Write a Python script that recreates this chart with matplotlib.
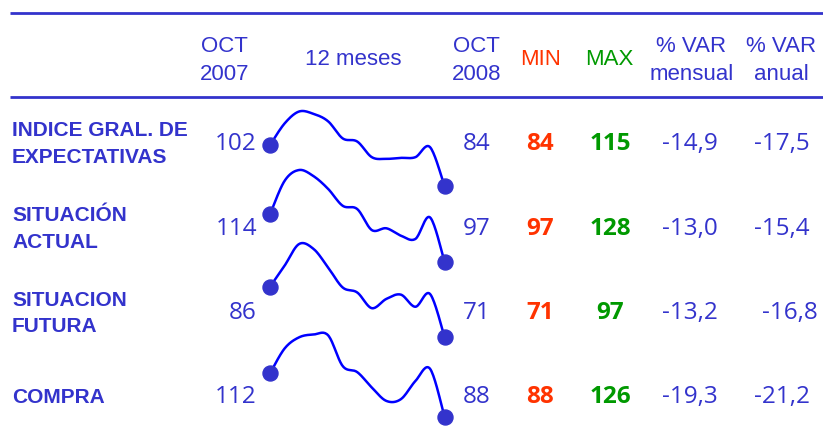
import numpy as np
import matplotlib
matplotlib.use("Agg")
import matplotlib.pyplot as plt

# table values
labels = [["INDICE GRAL. DE", "EXPECTATIVAS"],
          ["SITUACIÓN", "ACTUAL"],
          ["SITUACION", "FUTURA"],
          ["COMPRA"]]
oct_2007 = ["102", "114", "86", "112"]
oct_2008 = ["84", "97", "71", "88"]
val_min = ["84", "97", "71", "88"]
val_max = ["115", "128", "97", "126"]
var_mensual = ["-14,9", "-13,0", "-13,2", "-19,3"]
var_anual = ["-17,5", "-15,4", "-16,8", "-21,2"]

# 12 meses sparklines (oct 2007 .. oct 2008)
spark_indice = [101, 110, 115, 114, 110.9, 103.8, 102.5, 96, 95.3, 95.7, 96, 100.2, 84]
spark_actual = [113, 124.3, 128, 125.9, 121.6, 115.9, 114.8, 107.7, 108.3, 105.8, 104.7, 112, 97]
spark_futura = [85, 90.9, 97, 95.6, 90.4, 84.8, 83.4, 79, 81.6, 82.8, 79.4, 83, 71]
spark_compra = [108, 119.5, 124.7, 126, 125.6, 111.4, 108.6, 101.5, 95.3, 96.1, 104.5, 110.2, 88]
sparks = [spark_indice, spark_actual, spark_futura, spark_compra]

BLUE = "#3333cc"
RED = "#ff3300"
GREEN = "#009900"
LINE = "#0000ff"

W, H = 823, 427
FONT = "Liberation Sans"
NUMFONT = "Open Sans"

# layout (pixels)
baselines = [150, 235, 319.5, 403.3]
spark_y = [(112.5, 187), (171, 262.7), (245, 337.7), (335.5, 417.7)]
spark_x = (270, 444.5)
anual_nudge = [0, 0, 8, 0]


def catmull_rom(xs, ys, n=20):
    p = np.column_stack([xs, ys]).astype(float)
    p = np.vstack([p[0], p, p[-1]])
    out = []
    for i in range(1, len(p) - 2):
        p0, p1, p2, p3 = p[i - 1], p[i], p[i + 1], p[i + 2]
        c1 = p1 + (p2 - p0) / 6.0
        c2 = p2 - (p3 - p1) / 6.0
        t = np.linspace(0, 1, n)[:, None]
        seg = ((1 - t) ** 3) * p1 + 3 * ((1 - t) ** 2) * t * c1 \
            + 3 * (1 - t) * t ** 2 * c2 + t ** 3 * p2
        out.append(seg if i == 1 else seg[1:])
    out = np.vstack(out)
    return out[:, 0], out[:, 1]


fig = plt.figure(figsize=(W / 100, H / 100), dpi=100)
ax = fig.add_axes([0, 0, 1, 1])
ax.set_xlim(0, W)
ax.set_ylim(H, 0)
ax.axis("off")

# header rules
for y in (14, 97.5):
    ax.plot([10.5, W], [y, y], color=BLUE, lw=2.0, solid_capstyle="butt")

hdr = dict(fontsize=16, family=FONT, ha="center", va="baseline")
ax.text(224.6, 52, "OCT", color=BLUE, **hdr)
ax.text(224.6, 80, "2007", color=BLUE, **hdr)
ax.text(353, 65, "12 meses", color=BLUE, **hdr)
ax.text(476.6, 52, "OCT", color=BLUE, **hdr)
ax.text(476.6, 80, "2008", color=BLUE, **hdr)
ax.text(540.6, 65, "MIN", color=RED, **hdr)
ax.text(609, 65, "MAX", color=GREEN, **hdr)
ax.text(691.5, 52, "% VAR", color=BLUE, **hdr)
ax.text(691.5, 80, "mensual", color=BLUE, **hdr)
ax.text(781.5, 52, "% VAR", color=BLUE, **hdr)
ax.text(781.5, 80, "anual", color=BLUE, **hdr)

num = dict(fontsize=17.5, family=NUMFONT, va="baseline")
lab = dict(fontsize=15, fontweight="bold", family=FONT, va="baseline",
           color=BLUE)
for r, b in enumerate(baselines):
    lines = labels[r]
    if len(lines) == 2:
        ax.text(12, b - 13.5, lines[0], **lab)
        ax.text(12, b + 13, lines[1], **lab)
    else:
        ax.text(12, b, lines[0], **lab)
    ax.text(257, b, oct_2007[r], color=BLUE, ha="right", **num)
    ax.text(476.5, b, oct_2008[r], color=BLUE, ha="center", **num)
    ax.text(540, b, val_min[r], color=RED, ha="center", fontweight="bold", **num)
    ax.text(610.5, b, val_max[r], color=GREEN, ha="center", fontweight="bold", **num)
    ax.text(690, b, var_mensual[r], color=BLUE, ha="center", **num)
    ax.text(781.7 + anual_nudge[r], b, var_anual[r], color=BLUE, ha="center", **num)

# sparklines
for r, vals in enumerate(sparks):
    top, bot = spark_y[r]
    sa = fig.add_axes([spark_x[0] / W, 1 - bot / H,
                       (spark_x[1] - spark_x[0]) / W, (bot - top) / H])
    sa.axis("off")
    months = np.arange(len(vals))
    sa.set_xlim(months[0], months[-1])
    sa.set_ylim(min(vals), max(vals))
    sx, sy = catmull_rom(months, vals)
    sa.plot(sx, sy, color=LINE, lw=1.8, clip_on=False, zorder=2)
    sa.plot([months[0], months[-1]], [vals[0], vals[-1]], "o", color=BLUE,
            ms=10.8, clip_on=False, zorder=3)

fig.savefig("out.png", dpi=100)
